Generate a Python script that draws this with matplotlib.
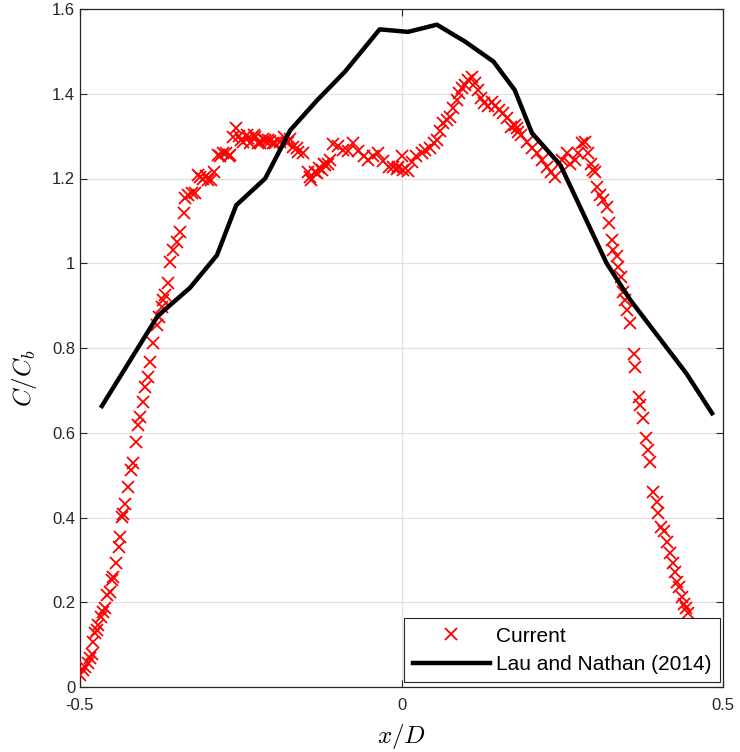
import matplotlib
matplotlib.use("Agg")
import matplotlib.pyplot as plt

plt.rcParams['font.family'] = ['Liberation Sans', 'DejaVu Sans']
plt.rcParams['mathtext.fontset'] = 'cm'

# Current (red x markers)
cur_x = [-0.500, -0.495, -0.492, -0.487, -0.485, -0.482, -0.480, -0.477, -0.474, -0.472,
         -0.467, -0.464, -0.461, -0.458, -0.454, -0.450, -0.448, -0.444, -0.440, -0.438,
         -0.435, -0.433, -0.430, -0.425, -0.420, -0.418, -0.413, -0.410, -0.406, -0.402,
         -0.399, -0.395, -0.391, -0.386, -0.381, -0.377, -0.373, -0.371, -0.368, -0.363,
         -0.360, -0.355, -0.349, -0.344, -0.339, -0.337, -0.332, -0.326, -0.321, -0.316,
         -0.314, -0.309, -0.304, -0.301, -0.297, -0.292, -0.285, -0.282, -0.277, -0.273,
         -0.269, -0.267, -0.262, -0.257, -0.252, -0.249, -0.247, -0.240, -0.238, -0.235,
         -0.230, -0.228, -0.223, -0.220, -0.215, -0.212, -0.207, -0.205, -0.200, -0.197,
         -0.189, -0.183, -0.178, -0.176, -0.173, -0.168, -0.163, -0.161, -0.153, -0.145,
         -0.143, -0.140, -0.134, -0.131, -0.129, -0.124, -0.121, -0.119, -0.114, -0.111,
         -0.106, -0.099, -0.091, -0.083, -0.075, -0.067, -0.059, -0.052, -0.044, -0.036,
         -0.029, -0.020, -0.013, -0.007, -0.005, 0.000, 0.003, 0.010, 0.016, 0.023,
         0.032, 0.037, 0.045, 0.050, 0.055, 0.060, 0.065, 0.070, 0.075, 0.080,
         0.086, 0.089, 0.094, 0.099, 0.104, 0.109, 0.114, 0.119, 0.124, 0.129,
         0.135, 0.141, 0.146, 0.151, 0.158, 0.164, 0.171, 0.176, 0.179, 0.181,
         0.186, 0.195, 0.203, 0.210, 0.218, 0.226, 0.233, 0.238, 0.250, 0.257,
         0.262, 0.270, 0.275, 0.280, 0.285, 0.290, 0.295, 0.298, 0.301, 0.304,
         0.309, 0.314, 0.319, 0.322, 0.327, 0.329, 0.335, 0.337, 0.342, 0.344,
         0.347, 0.350, 0.356, 0.361, 0.363, 0.369, 0.371, 0.376, 0.380, 0.384,
         0.387, 0.391, 0.397, 0.399, 0.404, 0.408, 0.413, 0.418, 0.422, 0.426,
         0.429, 0.432, 0.436, 0.439, 0.442, 0.446]
cur_y = [0.028, 0.040, 0.048, 0.056, 0.068, 0.079, 0.107, 0.127, 0.135, 0.146,
         0.166, 0.178, 0.186, 0.217, 0.225, 0.253, 0.260, 0.292, 0.331, 0.355,
         0.402, 0.409, 0.433, 0.473, 0.512, 0.528, 0.579, 0.618, 0.638, 0.673,
         0.709, 0.732, 0.768, 0.811, 0.854, 0.874, 0.897, 0.913, 0.925, 0.953,
         1.004, 1.031, 1.050, 1.074, 1.118, 1.153, 1.161, 1.165, 1.165, 1.208,
         1.204, 1.200, 1.205, 1.196, 1.196, 1.216, 1.255, 1.252, 1.259, 1.259,
         1.252, 1.256, 1.299, 1.318, 1.300, 1.291, 1.287, 1.303, 1.296, 1.283,
         1.303, 1.299, 1.283, 1.283, 1.294, 1.291, 1.291, 1.288, 1.283, 1.283,
         1.287, 1.299, 1.283, 1.287, 1.294, 1.275, 1.271, 1.263, 1.259, 1.216,
         1.204, 1.196, 1.216, 1.212, 1.224, 1.220, 1.235, 1.232, 1.235, 1.244,
         1.281, 1.277, 1.268, 1.266, 1.283, 1.265, 1.252, 1.244, 1.253, 1.259,
         1.242, 1.228, 1.226, 1.222, 1.228, 1.252, 1.220, 1.218, 1.240, 1.252,
         1.259, 1.267, 1.271, 1.283, 1.291, 1.311, 1.330, 1.338, 1.346, 1.366,
         1.385, 1.401, 1.413, 1.421, 1.432, 1.440, 1.425, 1.409, 1.389, 1.377,
         1.370, 1.381, 1.370, 1.362, 1.354, 1.342, 1.322, 1.326, 1.318, 1.310,
         1.303, 1.287, 1.271, 1.259, 1.244, 1.228, 1.216, 1.204, 1.244, 1.259,
         1.235, 1.244, 1.259, 1.283, 1.287, 1.259, 1.235, 1.220, 1.216, 1.181,
         1.160, 1.149, 1.133, 1.094, 1.055, 1.031, 1.016, 0.992, 0.968, 0.933,
         0.913, 0.890, 0.858, 0.787, 0.756, 0.685, 0.665, 0.634, 0.587, 0.559,
         0.532, 0.461, 0.437, 0.410, 0.378, 0.367, 0.343, 0.316, 0.292, 0.272,
         0.248, 0.237, 0.213, 0.197, 0.186, 0.174]

# Lau and Nathan (2014) (black line)
lau_x = [-0.466, -0.379, -0.329, -0.287, -0.257, -0.212, -0.173, -0.131, -0.088, -0.034,
         0.010, 0.055, 0.099, 0.143, 0.176, 0.203, 0.247, 0.319, 0.356, 0.443, 0.483]
lau_y = [0.663, 0.876, 0.942, 1.019, 1.137, 1.200, 1.314, 1.385, 1.452, 1.552,
         1.546, 1.563, 1.523, 1.476, 1.409, 1.307, 1.232, 1.000, 0.913, 0.740, 0.646]

xticks = [-0.5, 0, 0.5]
xticklabels = ['-0.5', '0', '0.5']
yticks = [0, 0.2, 0.4, 0.6, 0.8, 1.0, 1.2, 1.4, 1.6]
yticklabels = ['0', '0.2', '0.4', '0.6', '0.8', '1', '1.2', '1.4', '1.6']

fig = plt.figure(figsize=(7.4, 7.52), dpi=100)
ax = fig.add_axes([80 / 740, 65 / 752, 643 / 740, 678 / 752])

ax.plot(cur_x, cur_y, linestyle='none', marker='x', color='#ff0000',
        markersize=9, markeredgewidth=1.3, label='Current', zorder=3)
ax.plot(lau_x, lau_y, color='black', linewidth=3.2, label='Lau and Nathan (2014)', zorder=4)

ax.set_xlim(-0.5, 0.5)
ax.set_ylim(0, 1.6)
ax.set_xticks(xticks)
ax.set_xticklabels(xticklabels)
ax.set_yticks(yticks)
ax.set_yticklabels(yticklabels)
ax.grid(True, color='#e0e0e0', linewidth=0.9)
ax.set_axisbelow(True)
ax.tick_params(direction='in', top=True, right=True, labelsize=12,
               colors='#262626', length=5, width=0.8)
ax.tick_params(axis='x', pad=8)
ax.tick_params(axis='y', pad=3.5)
for s in ax.spines.values():
    s.set_color('#262626')
    s.set_linewidth(0.9)

ax.set_xlabel('$x/D$', fontsize=18)
ax.set_ylabel('$C/C_b$', fontsize=18)
ax.xaxis.set_label_coords(0.5, -0.052)
ax.yaxis.set_label_coords(-0.064, 0.455)

leg = ax.legend(loc='lower right', bbox_to_anchor=(0.995, 0.007), fontsize=15,
                frameon=True, fancybox=False, framealpha=1, edgecolor='#262626',
                borderpad=0.4, handlelength=3.7, handletextpad=0.3,
                labelspacing=0.45, borderaxespad=0)
leg.get_frame().set_linewidth(0.8)
leg.set_zorder(10)

fig.savefig('out.png', dpi=100)
